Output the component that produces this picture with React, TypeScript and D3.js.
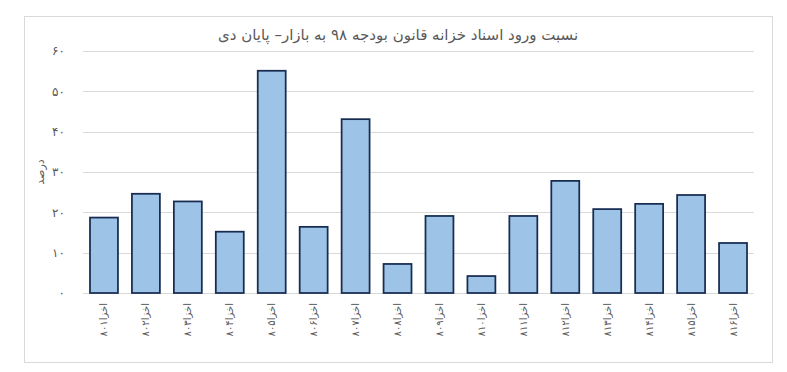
import React, { useEffect, useRef } from 'react';
import * as d3 from 'd3';

const categories = [
  'اخزا۸۰۱', 'اخزا۸۰۲', 'اخزا۸۰۳', 'اخزا۸۰۴', 'اخزا۸۰۵', 'اخزا۸۰۶', 'اخزا۸۰۷', 'اخزا۸۰۸',
  'اخزا۸۰۹', 'اخزا۸۱۰', 'اخزا۸۱۱', 'اخزا۸۱۲', 'اخزا۸۱۳', 'اخزا۸۱۴', 'اخزا۸۱۵', 'اخزا۸۱۶',
];
const values = [18.7, 24.6, 22.7, 15.2, 55.1, 16.4, 43.1, 7.2, 19.1, 4.2, 19.1, 27.8, 20.8, 22.1, 24.3, 12.4];
const yTicks = [0, 10, 20, 30, 40, 50, 60];
const title = 'نسبت ورود اسناد خزانه قانون بودجه ۹۸ به بازار– پایان دی';
const yTitle = 'درصد';

const faDigits = (n: number) => String(n).replace(/\d/g, (c) => '۰۱۲۳۴۵۶۷۸۹'[+c]);

export default function App() {
  const ref = useRef<SVGSVGElement>(null);

  useEffect(() => {
    if (!ref.current) return;
    const svg = d3.select(ref.current);
    svg.selectAll('*').remove();

    const width = 787;
    const height = 372;
    const margin = { top: 51, right: 33, bottom: 79, left: 83 };
    const font = '"DejaVu Sans", sans-serif';

    svg.attr('width', width).attr('height', height);

    svg.append('rect')
      .attr('x', 0).attr('y', 0).attr('width', width).attr('height', height)
      .attr('fill', '#fff');

    // ------- Outer border -------
    svg.append('rect')
      .attr('x', 24.5).attr('y', 16.5).attr('width', 748).attr('height', 346)
      .attr('fill', 'none').attr('stroke', '#d9d9d9');

    // ------- Scales -------
    const x = d3.scaleBand<string>()
      .domain(categories)
      .range([margin.left, width - margin.right])
      .paddingInner(1 / 3)
      .paddingOuter(1 / 6);

    const y = d3.scaleLinear()
      .domain([0, 60])
      .range([height - margin.bottom, margin.top]);

    // ------- Grid -------
    svg.append('g')
      .selectAll('line')
      .data(yTicks)
      .enter()
      .append('line')
      .attr('x1', margin.left)
      .attr('x2', width - margin.right)
      .attr('y1', (d) => Math.round(y(d)) + 0.5)
      .attr('y2', (d) => Math.round(y(d)) + 0.5)
      .attr('stroke', '#d9d9d9')
      .attr('stroke-width', 1);

    // ------- Y tick labels -------
    svg.append('g')
      .selectAll('text')
      .data(yTicks)
      .enter()
      .append('text')
      .attr('x', 65)
      .attr('y', (d) => y(d))
      .attr('dy', '0.35em')
      .attr('text-anchor', 'end')
      .attr('fill', '#595959')
      .style('font-family', font)
      .style('font-size', '12px')
      .text((d) => faDigits(d));

    // ------- Bars -------
    svg.append('g')
      .selectAll('rect')
      .data(values)
      .enter()
      .append('rect')
      .attr('x', (d, i) => x(categories[i])!)
      .attr('y', (d) => y(d))
      .attr('width', x.bandwidth())
      .attr('height', (d) => y(0) - y(d))
      .attr('fill', '#9dc3e6')
      .attr('stroke', '#172c51')
      .attr('stroke-width', 1.75);

    // ------- X labels -------
    svg.append('g')
      .selectAll('text')
      .data(categories)
      .enter()
      .append('text')
      .attr('transform', (d) => `translate(${x(d)! + x.bandwidth() / 2},${y(0) + 10}) rotate(-90)`)
      .attr('dy', '0.35em')
      .attr('text-anchor', 'start')
      .attr('direction', 'rtl')
      .attr('fill', '#595959')
      .style('font-family', font)
      .style('font-size', '10px')
      .text((d) => d);

    // ------- Axis title -------
    svg.append('text')
      .attr('transform', `translate(40,${y(30)}) rotate(-90)`)
      .attr('text-anchor', 'middle')
      .attr('dy', '0.35em')
      .attr('fill', '#595959')
      .style('font-family', font)
      .style('font-size', '11px')
      .text(yTitle);

    // ------- Title -------
    svg.append('text')
      .attr('x', 398)
      .attr('y', 35)
      .attr('text-anchor', 'middle')
      .attr('dy', '0.35em')
      .attr('fill', '#595959')
      .style('font-family', font)
      .style('font-size', '15px')
      .text(title);
  }, []);

  return <svg ref={ref} style={{ position: 'absolute', left: 0, top: 0, display: 'block' }} />;
}
